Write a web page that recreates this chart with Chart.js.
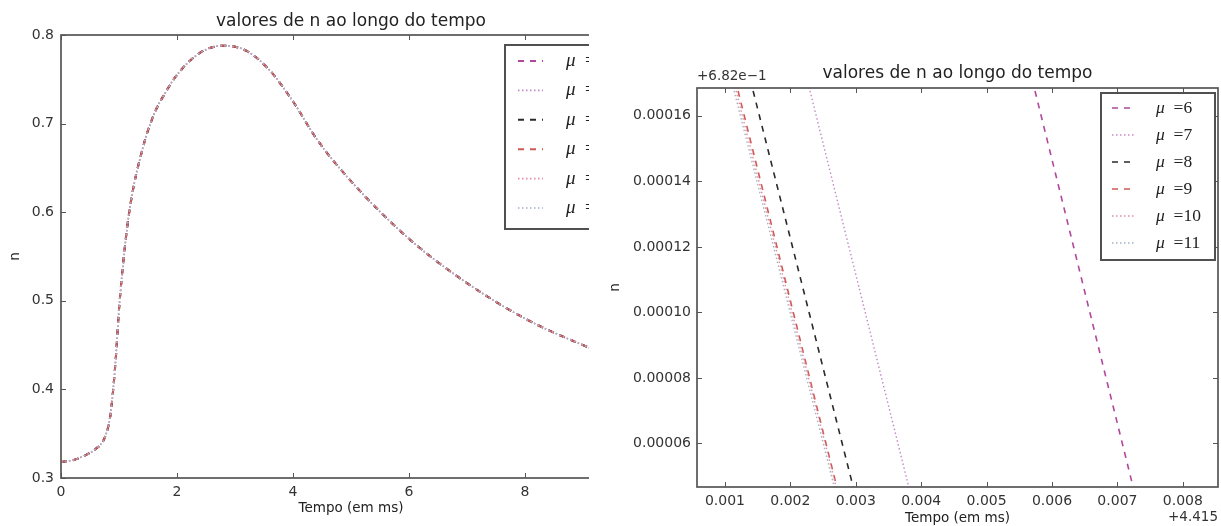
<!DOCTYPE html>
<html>
<head>
<meta charset="utf-8">
<script src="https://cdn.jsdelivr.net/npm/chart.js@4"></script>
<style>
	html, body { margin: 0; padding: 0; background: #fff; }
	body { width: 1221px; height: 526px; position: relative; overflow: hidden; }
	.wrap { position: absolute; top: 0; overflow: hidden; }
	canvas { display: block; }
</style>
</head>
<body>
<div class="wrap" style="left:0;width:589px;height:526px"><canvas id="left" width="660" height="526"></canvas></div>
<div class="wrap" style="left:600px;width:621px;height:526px"><canvas id="right" width="621" height="540"></canvas></div>
<script>
// series labels (mu)
let muValues = ["6", "7", "8", "9", "10", "11"];

// left panel: n over time, all six curves coincide at this scale
let leftTime = [0, 0.2, 0.4, 0.6, 0.75, 0.85, 0.9, 0.95, 1.0, 1.1, 1.2, 1.4, 1.6, 1.8, 2.0, 2.4, 2.8, 3.2, 3.6, 4.0, 4.415, 5, 6, 7, 8, 9, 10];
let leftN = [0.318, 0.32, 0.325, 0.333, 0.345, 0.37, 0.4, 0.44, 0.49, 0.56, 0.61, 0.67, 0.71, 0.735, 0.755, 0.78, 0.788, 0.782, 0.76, 0.725, 0.682, 0.635, 0.57, 0.52, 0.48, 0.45, 0.425];
let leftXTicks = [0, 2, 4, 6, 8, 10];
let leftYTicks = [0.3, 0.4, 0.5, 0.6, 0.7, 0.8];

// right panel: zoom, values relative to the printed offsets
let rightTimeOffset = "+4.415";
let rightNOffset = "+6.82e\u22121";
let rightNEnds = [0.0001676, 0.0000467];
let rightTimeStart = [0.00574, 0.0023, 0.00143, 0.0012, 0.00117, 0.00114];
let rightTimeEnd = [0.00724, 0.00381, 0.00296, 0.00271, 0.0027, 0.00267];
let rightXTicks = [0.001, 0.002, 0.003, 0.004, 0.005, 0.006, 0.007, 0.008];
let rightYTicks = [0.00006, 0.00008, 0.0001, 0.00012, 0.00014, 0.00016];

let lineColors = ["#b0479c", "#c489c8", "#2a2a2a", "#cf5a55", "#e58aa2", "#a3b3c4"];
let lineDashes = [[6, 6], [1.5, 2.5], [6, 6], [6, 6], [1.5, 2.5], [1.5, 2.5]];

let font = "'DejaVu Sans'";
let textColor = "#333";

let mplDecor = {
	id: "mplDecor",
	afterDatasetsDraw(chart, args, opts) {
		let ctx = chart.ctx;
		let a = chart.chartArea;
		let sx = chart.scales.x, sy = chart.scales.y;
		ctx.save();
		// inward ticks on all four sides
		ctx.strokeStyle = "#555";
		ctx.lineWidth = 1;
		ctx.beginPath();
		sx.ticks.forEach(t => {
			let p = Math.round(sx.getPixelForValue(t.value)) + 0.5;
			ctx.moveTo(p, a.bottom); ctx.lineTo(p, a.bottom - 5);
			ctx.moveTo(p, a.top); ctx.lineTo(p, a.top + 5);
		});
		sy.ticks.forEach(t => {
			let p = Math.round(sy.getPixelForValue(t.value)) + 0.5;
			ctx.moveTo(a.left, p); ctx.lineTo(a.left + 5, p);
			ctx.moveTo(a.right, p); ctx.lineTo(a.right - 5, p);
		});
		ctx.stroke();
		// frame
		ctx.lineWidth = 1.7;
		ctx.strokeRect(a.left, a.top, a.right - a.left, a.bottom - a.top);
		// title
		ctx.fillStyle = "#222";
		ctx.font = "17px " + font;
		ctx.textAlign = "center";
		ctx.textBaseline = "middle";
		ctx.fillText(opts.title, (a.left + a.right) / 2, opts.titleY);
		// offset texts
		ctx.font = "13.5px " + font;
		ctx.fillStyle = textColor;
		if (opts.yOffset) {
			ctx.textAlign = "left";
			ctx.fillText(opts.yOffset, a.left, a.top - 12);
		}
		if (opts.xOffset) {
			ctx.textAlign = "right";
			ctx.fillText(opts.xOffset, a.right, 517);
		}
		// legend
		let lg = opts.legend;
		ctx.fillStyle = "#fff";
		ctx.fillRect(lg.left, lg.top, lg.width, lg.height);
		ctx.strokeStyle = "#505050";
		ctx.lineWidth = 2;
		ctx.strokeRect(lg.left, lg.top, lg.width, lg.height);
		chart.data.datasets.forEach((ds, i) => {
			let y = lg.top + lg.first + i * lg.rowH;
			ctx.strokeStyle = ds.borderColor;
			ctx.lineWidth = ds.borderWidth;
			ctx.setLineDash(ds.borderDash);
			ctx.beginPath();
			ctx.moveTo(lg.left + lg.s0, y);
			ctx.lineTo(lg.left + lg.s1, y);
			ctx.stroke();
			ctx.setLineDash([]);
			ctx.fillStyle = "#222";
			ctx.textAlign = "left";
			ctx.font = "italic " + lg.size + "px 'Liberation Serif'";
			ctx.fillText(ds.label.charAt(0), lg.left + lg.tx, y);
			let w = ctx.measureText(ds.label.charAt(0)).width;
			ctx.font = lg.size + "px 'Liberation Serif'";
			ctx.fillText(ds.label.slice(1), lg.left + lg.tx + w, y);
		});
		ctx.restore();
	}
};

let makeDatasets = (pointsFor, dashW, dotW) => muValues.map((mu, i) => ({
	label: "\u03bc  =" + mu,
	data: pointsFor(i),
	borderColor: lineColors[i],
	borderDash: lineDashes[i],
	borderWidth: lineDashes[i][0] > 2 ? dashW : dotW,
	pointRadius: 0,
	fill: false,
	cubicInterpolationMode: "monotone",
	order: muValues.length - i,
}));

let axis = (min, max, ticks, fmt, title, extra) => Object.assign({
	type: "linear",
	min: min,
	max: max,
	grid: { display: false, drawTicks: false },
	border: { display: false },
	afterBuildTicks: s => { s.ticks = ticks.map(v => ({ value: v })); },
	ticks: {
		autoSkip: false,
		maxRotation: 0,
		padding: 6,
		color: textColor,
		font: { family: "DejaVu Sans", size: 14 },
		callback: fmt,
	},
	title: {
		display: true,
		text: title,
		color: "#222",
		font: { family: "DejaVu Sans", size: 13.5 },
	},
}, extra);

let renderLeft = () => {
	new Chart(document.getElementById("left"), {
		type: "line",
		data: {
			datasets: makeDatasets(() => leftTime.map((t, k) => ({ x: t, y: leftN[k] })), 2, 1.6),
		},
		plugins: [mplDecor],
		options: {
			responsive: false,
			animation: false,
			layout: { padding: { left: 0, top: 35, right: 19, bottom: 0 } },
			plugins: {
				legend: { display: false },
				tooltip: { enabled: false },
				mplDecor: {
					title: "valores de n ao longo do tempo",
					titleY: 22,
					legend: { left: 505, top: 45, width: 130, height: 184, first: 16, rowH: 29.4, s0: 13, s1: 38, tx: 61, size: 19 },
				},
			},
			scales: {
				x: axis(0, 10, leftXTicks, v => String(v), "Tempo (em ms)", {
					afterFit: s => { s.height = 48; },
				}),
				y: axis(0.3, 0.8, leftYTicks, v => v.toFixed(1), "n", {
					afterFit: s => { s.width = 61; },
				}),
			},
		},
	});
	let c = Chart.getChart("left");
	c.options.scales.x.title.padding = { top: 0, bottom: 9 };
	c.options.scales.y.title.padding = { top: 7, bottom: 0 };
	c.options.scales.y.ticks.padding = 7;
	c.update();
};

let renderRight = () => {
	new Chart(document.getElementById("right"), {
		type: "line",
		data: {
			datasets: makeDatasets(i => [
				{ x: rightTimeStart[i], y: rightNEnds[0] },
				{ x: rightTimeEnd[i], y: rightNEnds[1] },
			], 1.6, 1.4),
		},
		plugins: [mplDecor],
		options: {
			responsive: false,
			animation: false,
			layout: { padding: { left: 0, top: 88, right: 3, bottom: 0 } },
			plugins: {
				legend: { display: false },
				tooltip: { enabled: false },
				mplDecor: {
					title: "valores de n ao longo do tempo",
					titleY: 74,
					yOffset: rightNOffset,
					xOffset: rightTimeOffset,
					legend: { left: 501, top: 93, width: 114, height: 167, first: 15, rowH: 27, s0: 11, s1: 34, tx: 55, size: 17.5 },
				},
			},
			scales: {
				x: axis(0.000572, 0.008538, rightXTicks, v => v.toFixed(3), "Tempo (em ms)", {
					afterFit: s => { s.height = 53; },
				}),
				y: axis(0.0000467, 0.0001685, rightYTicks, v => v.toFixed(5), "n", {
					afterFit: s => { s.width = 97; },
				}),
			},
		},
	});
	let c = Chart.getChart("right");
	c.options.scales.x.title.padding = { top: 0, bottom: 13 };
	c.options.scales.y.title.padding = { top: 7, bottom: 0 };
	c.update();
};

renderLeft();
renderRight();
</script>
</body>
</html>
